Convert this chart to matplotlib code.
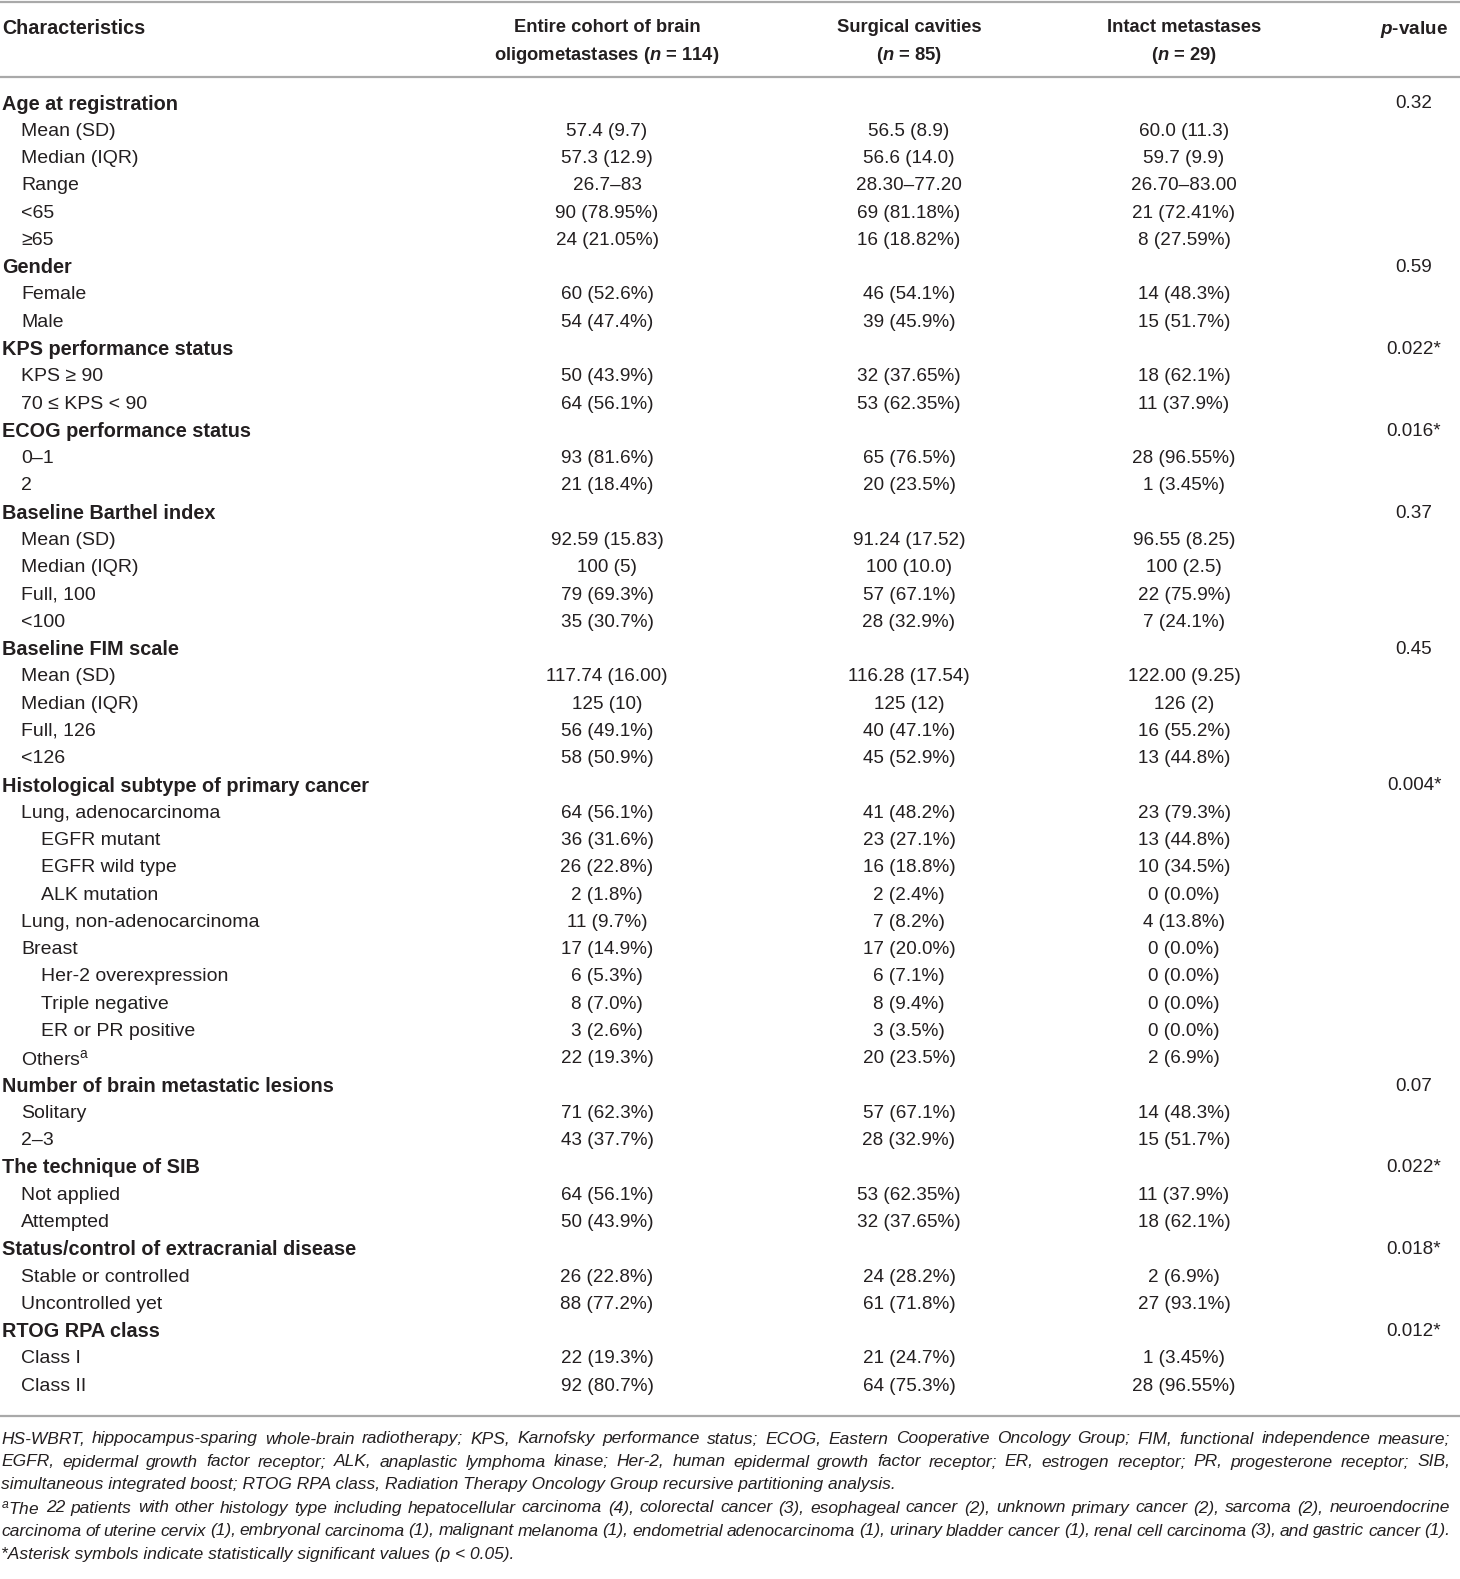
import matplotlib.pyplot as plt

plt.rcParams['font.family'] = ['Liberation Sans', 'DejaVu Sans']
plt.rcParams['mathtext.fontset'] = 'custom'
plt.rcParams['mathtext.rm'] = 'Liberation Sans'
plt.rcParams['mathtext.it'] = 'Liberation Sans:italic'
plt.rcParams['mathtext.bf'] = 'Liberation Sans:bold'
plt.rcParams['mathtext.bfit'] = 'Liberation Sans:italic:bold'

# table content
headers = ["Entire cohort of brain\noligometastases ($\\mathbfit{n}$ = 114)",
           "Surgical cavities\n($\\mathbfit{n}$ = 85)",
           "Intact metastases\n($\\mathbfit{n}$ = 29)"]

labels = ["Age at registration", "Mean (SD)", "Median (IQR)", "Range", "<65", "≥65",
          "Gender", "Female", "Male",
          "KPS performance status", "KPS ≥ 90", "70 ≤ KPS < 90",
          "ECOG performance status", "0–1", "2",
          "Baseline Barthel index", "Mean (SD)", "Median (IQR)", "Full, 100", "<100",
          "Baseline FIM scale", "Mean (SD)", "Median (IQR)", "Full, 126", "<126",
          "Histological subtype of primary cancer", "Lung, adenocarcinoma", "EGFR mutant",
          "EGFR wild type", "ALK mutation", "Lung, non-adenocarcinoma", "Breast",
          "Her-2 overexpression", "Triple negative", "ER or PR positive",
          "Others$^{\\mathrm{a}}$",
          "Number of brain metastatic lesions", "Solitary", "2–3",
          "The technique of SIB", "Not applied", "Attempted",
          "Status/control of extracranial disease", "Stable or controlled", "Uncontrolled yet",
          "RTOG RPA class", "Class I", "Class II"]
levels = [0, 1, 1, 1, 1, 1,
          0, 1, 1,
          0, 1, 1,
          0, 1, 1,
          0, 1, 1, 1, 1,
          0, 1, 1, 1, 1,
          0, 1, 2, 2, 2, 1, 1, 2, 2, 2, 1,
          0, 1, 1,
          0, 1, 1,
          0, 1, 1,
          0, 1, 1]
entire = ["", "57.4 (9.7)", "57.3 (12.9)", "26.7–83", "90 (78.95%)", "24 (21.05%)",
          "", "60 (52.6%)", "54 (47.4%)",
          "", "50 (43.9%)", "64 (56.1%)",
          "", "93 (81.6%)", "21 (18.4%)",
          "", "92.59 (15.83)", "100 (5)", "79 (69.3%)", "35 (30.7%)",
          "", "117.74 (16.00)", "125 (10)", "56 (49.1%)", "58 (50.9%)",
          "", "64 (56.1%)", "36 (31.6%)", "26 (22.8%)", "2 (1.8%)", "11 (9.7%)", "17 (14.9%)",
          "6 (5.3%)", "8 (7.0%)", "3 (2.6%)", "22 (19.3%)",
          "", "71 (62.3%)", "43 (37.7%)",
          "", "64 (56.1%)", "50 (43.9%)",
          "", "26 (22.8%)", "88 (77.2%)",
          "", "22 (19.3%)", "92 (80.7%)"]
surgical = ["", "56.5 (8.9)", "56.6 (14.0)", "28.30–77.20", "69 (81.18%)", "16 (18.82%)",
            "", "46 (54.1%)", "39 (45.9%)",
            "", "32 (37.65%)", "53 (62.35%)",
            "", "65 (76.5%)", "20 (23.5%)",
            "", "91.24 (17.52)", "100 (10.0)", "57 (67.1%)", "28 (32.9%)",
            "", "116.28 (17.54)", "125 (12)", "40 (47.1%)", "45 (52.9%)",
            "", "41 (48.2%)", "23 (27.1%)", "16 (18.8%)", "2 (2.4%)", "7 (8.2%)", "17 (20.0%)",
            "6 (7.1%)", "8 (9.4%)", "3 (3.5%)", "20 (23.5%)",
            "", "57 (67.1%)", "28 (32.9%)",
            "", "53 (62.35%)", "32 (37.65%)",
            "", "24 (28.2%)", "61 (71.8%)",
            "", "21 (24.7%)", "64 (75.3%)"]
intact = ["", "60.0 (11.3)", "59.7 (9.9)", "26.70–83.00", "21 (72.41%)", "8 (27.59%)",
          "", "14 (48.3%)", "15 (51.7%)",
          "", "18 (62.1%)", "11 (37.9%)",
          "", "28 (96.55%)", "1 (3.45%)",
          "", "96.55 (8.25)", "100 (2.5)", "22 (75.9%)", "7 (24.1%)",
          "", "122.00 (9.25)", "126 (2)", "16 (55.2%)", "13 (44.8%)",
          "", "23 (79.3%)", "13 (44.8%)", "10 (34.5%)", "0 (0.0%)", "4 (13.8%)", "0 (0.0%)",
          "0 (0.0%)", "0 (0.0%)", "0 (0.0%)", "2 (6.9%)",
          "", "14 (48.3%)", "15 (51.7%)",
          "", "11 (37.9%)", "18 (62.1%)",
          "", "2 (6.9%)", "27 (93.1%)",
          "", "1 (3.45%)", "28 (96.55%)"]
pvals = ["0.32", "", "", "", "", "",
         "0.59", "", "",
         "0.022*", "", "",
         "0.016*", "", "",
         "0.37", "", "", "", "",
         "0.45", "", "", "", "",
         "0.004*", "", "", "", "", "", "", "", "", "", "",
         "0.07", "", "",
         "0.022*", "", "",
         "0.018*", "", "",
         "0.012*", "", ""]

notes = [
    "HS-WBRT, hippocampus-sparing whole-brain radiotherapy; KPS, Karnofsky performance status; ECOG, Eastern Cooperative Oncology Group; FIM, functional independence measure;",
    "EGFR, epidermal growth factor receptor; ALK, anaplastic lymphoma kinase; Her-2, human epidermal growth factor receptor; ER, estrogen receptor; PR, progesterone receptor; SIB,",
    "simultaneous integrated boost; RTOG RPA class, Radiation Therapy Oncology Group recursive partitioning analysis.",
    "$^{a}$The 22 patients with other histology type including hepatocellular carcinoma (4), colorectal cancer (3), esophageal cancer (2), unknown primary cancer (2), sarcoma (2), neuroendocrine",
    "carcinoma of uterine cervix (1), embryonal carcinoma (1), malignant melanoma (1), endometrial adenocarcinoma (1), urinary bladder cancer (1), renal cell carcinoma (3), and gastric cancer (1).",
    "*Asterisk symbols indicate statistically significant values (p < 0.05).",
]
justified = [True, True, False, True, True, False]

W, H = 1460, 1579
ink = '#231f20'
rule = '#a9a9a9'
fs = 13.6

fig = plt.figure(figsize=(W / 100, H / 100), dpi=100)
ax = fig.add_axes([0, 0, 1, 1])
ax.set_xlim(0, W)
ax.set_ylim(H, 0)
ax.axis('off')

col_x = [607, 909, 1184]
p_x = 1414
indent = [2, 21, 41]

# rules
for yy in [1.5, 77, 1416]:
    ax.plot([0, W], [yy, yy], color=rule, lw=1.6, solid_capstyle='butt')

# header
ax.text(2, 29, "Characteristics", fontsize=14.2, fontweight='bold', color=ink, va='center')
for x, h in zip(col_x, headers):
    ax.text(x, 43, h, fontsize=13.2, fontweight='bold', color=ink, ha='center', va='center',
            linespacing=1.6)
ax.text(p_x, 29, "$\\mathbfit{p}$-value", fontsize=13.6, fontweight='bold', color=ink,
        ha='center', va='center')

# body
y0, dy = 104, 27.28
for i, lab in enumerate(labels):
    y = y0 + i * dy
    bold = levels[i] == 0
    ax.text(indent[levels[i]], y, lab, fontsize=14.3 if bold else 14, color=ink, va='center',
            fontweight='bold' if bold else 'normal')
    for x, col in zip(col_x, [entire, surgical, intact]):
        ax.text(x, y, col[i], fontsize=fs, color=ink, ha='center', va='center')
    ax.text(p_x, y, pvals[i], fontsize=fs, color=ink, ha='center', va='center')

# footnotes
fig.canvas.draw()
rend = fig.canvas.get_renderer()
fy0, fdy = 1439, 23
for k, (line, just) in enumerate(zip(notes, justified)):
    y = fy0 + k * fdy
    if not just:
        ax.text(1, y, line, fontsize=12.5, style='italic', color=ink, va='center')
        continue
    words = line.split(' ')
    ts = [ax.text(0, y, w, fontsize=12.5, style='italic', color=ink, va='center') for w in words]
    widths = [t.get_window_extent(rend).width for t in ts]
    gap = (W - 10 - 1 - sum(widths)) / (len(words) - 1)
    x = 1
    for t, w in zip(ts, widths):
        t.set_x(x)
        x += w + gap

fig.savefig('out.png', dpi=100, facecolor='white')
